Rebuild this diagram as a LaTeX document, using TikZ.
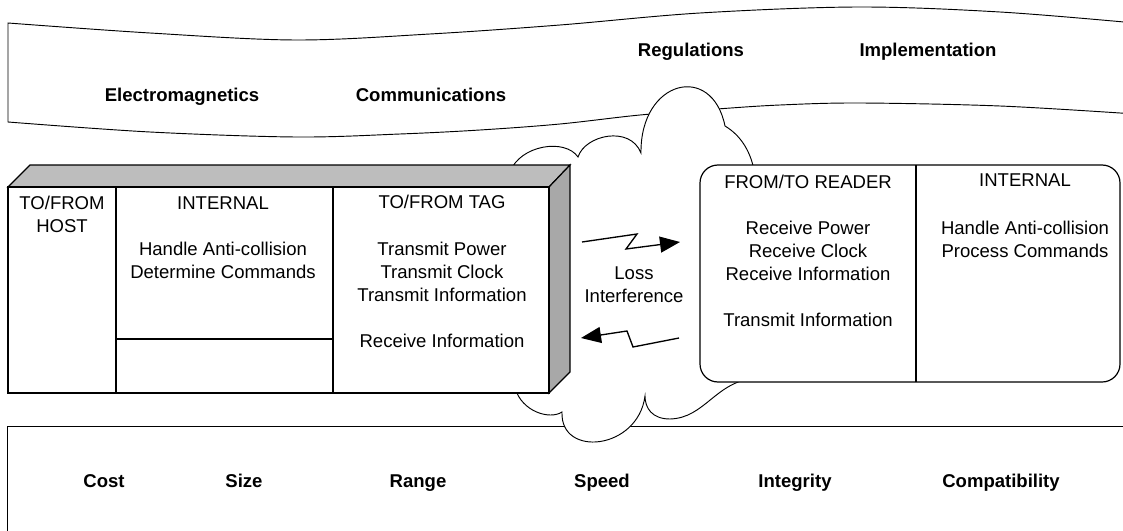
\documentclass[tikz,border=0pt]{standalone}
\usepackage{fontspec}
\setmainfont{Liberation Sans}
\usetikzlibrary{arrows.meta}
\definecolor{topgrey}{gray}{0.74}
\definecolor{sidegrey}{gray}{0.66}
\begin{document}
\begin{tikzpicture}[x=0.75pt,y=-0.75pt,
  txt/.style={font=\fontsize{13.9}{17.25}\selectfont, align=center, anchor=north, inner sep=0pt},
  head/.style={font=\fontsize{13.9}{17.25}\selectfont\bfseries, anchor=base, inner sep=0pt},
  frame/.style={draw=black, line width=0.9pt},
  bandline/.style={draw=black, line width=0.7pt},
  cloudline/.style={draw=black, line width=0.7pt, fill=white},
  bolt/.style={draw=black, line width=1pt, -{Triangle[length=15pt,width=12pt]}},
]
\useasboundingbox (0,0) rectangle (1123,531);

% upper band: technology areas
\draw[bandline] plot[smooth, tension=0.55] coordinates
  {(1135,23) (1000,12) (858,7) (700,13) (560,25) (430,34) (296,40) (150,33) (8,23)}
  -- (8,122)
  -- plot[smooth, tension=0.55] coordinates
  {(8,122) (150,132) (296,137) (400,134) (480,130) (560,124) (640,115) (717,109) (780,105) (860,103) (1000,106) (1135,114)};
\node[head] (em)   at (182,102) {Electromagnetics};
\node[head] (comm) at (431,102) {Communications};
\node[head] (reg)  at (691,57)  {Regulations};
\node[head] (impl) at (928,57)  {Implementation};

% lower band: system requirements
\draw[bandline] (1135,426) -- (7,426) -- (7,540);
\node[head] (cost)   at (104,487)  {Cost};
\node[head] (size)   at (244,487)  {Size};
\node[head] (range)  at (418,487)  {Range};
\node[head] (speed)  at (602,487)  {Speed};
\node[head] (integ)  at (795,487)  {Integrity};
\node[head] (compat) at (1001,487) {Compatibility};

% air interface cloud
\draw[cloudline] (510,172)
  .. controls (520,145) and (565,138) .. (578,157)
  .. controls (585,135) and (630,125) .. (641,153)
  .. controls (640,80) and (712,62) .. (725,126)
  .. controls (740,135) and (750,150) .. (754,170)
  -- (755,378)
  .. controls (715,382) and (705,418) .. (670,419)
  .. controls (652,419) and (645,408) .. (645,396)
  .. controls (638,450) and (560,458) .. (562,412)
  .. controls (550,420) and (522,412) .. (515,388)
  -- cycle;

% reader block (3-D box)
\draw[frame, fill=topgrey] (8,187) -- (30,165) -- (570,165) -- (549,187) -- cycle;
\draw[frame, fill=sidegrey] (549,187) -- (570,165) -- (570,372) -- (549,393) -- cycle;
\draw[frame, fill=white] (8,187) rectangle (549,393);
\draw[frame] (116,187) -- (116,393);
\draw[frame] (333,187) -- (333,393);
\draw[frame] (116,339) -- (333,339);

\node[txt] (host) at (62,196)  {TO/FROM\\HOST};
\node[txt] (rint) at (223,196) {INTERNAL};
\node[txt] (rinx) at (223,242) {Handle Anti-collision\\Determine Commands};
\node[txt] (tag)  at (442,195) {TO/FROM TAG};
\node[txt] (tagx) at (442,242) {Transmit Power\\Transmit Clock\\Transmit Information\\[17.25pt]Receive Information};

% tag block
\draw[frame, fill=white, rounded corners=13.5pt] (700,165) rectangle (1120,382);
\draw[frame] (916,165) -- (916,382);
\node[txt] (rdr)  at (808,175)  {FROM/TO READER};
\node[txt] (rdrx) at (808,221)  {Receive Power\\Receive Clock\\Receive Information\\[17.25pt]Transmit Information};
\node[txt] (tint) at (1025,173) {INTERNAL};
\node[txt] (tinx) at (1025,221) {Handle Anti-collision\\Process Commands};

% channel
\node[txt] (loss) at (634,266) {Loss\\Interference};
\coordinate (fwdA) at (582,242);
\coordinate (fwdB) at (680,242);
\coordinate (revA) at (679,338);
\coordinate (revB) at (581,338);
\draw[bolt] (fwdA) -- (637,234) -- (626,249) -- (fwdB);
\draw[bolt] (revA) -- (633,347) -- (627,331) -- (revB);
\end{tikzpicture}
\end{document}
